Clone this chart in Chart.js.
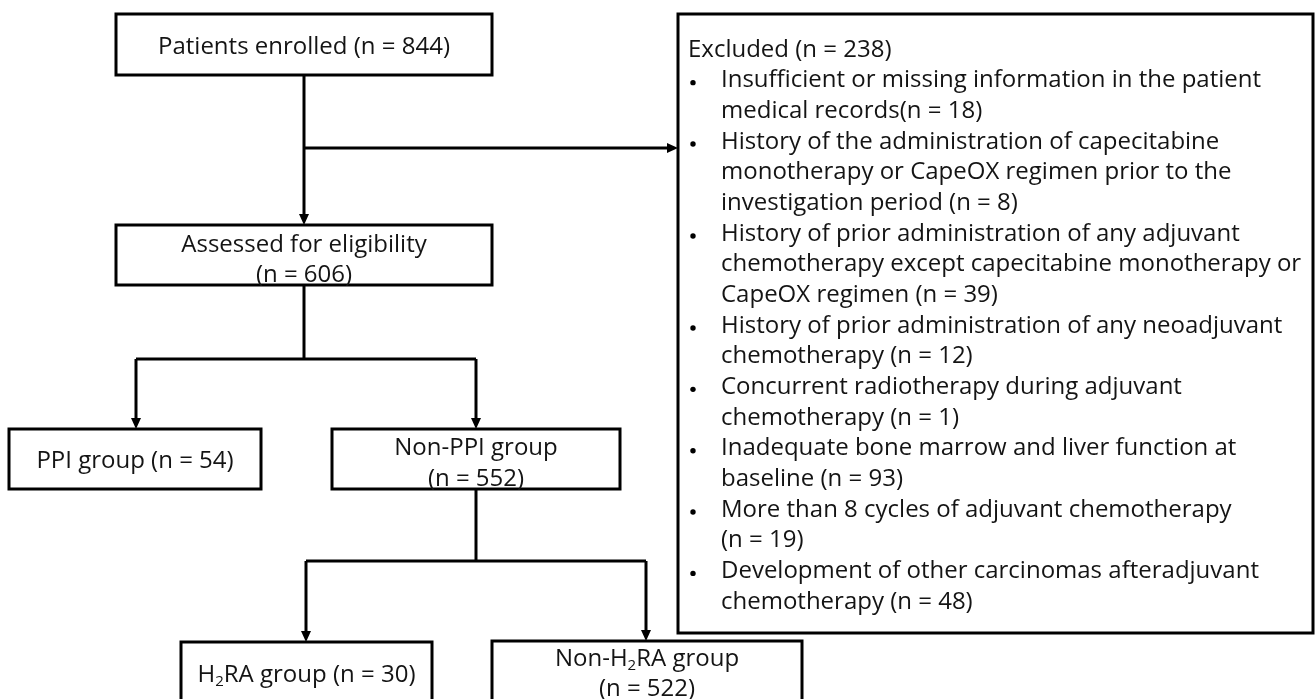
<!DOCTYPE html>
<html>
<head>
<meta charset="utf-8">
<script src="https://cdn.jsdelivr.net/npm/chart.js@4.4.0/dist/chart.umd.min.js"></script>
<style>
  html, body { margin: 0; padding: 0; background: #fff; }
  #wrap { width: 1315px; height: 699px; position: relative; }
</style>
</head>
<body>
<div id="wrap"><canvas id="flowChart"></canvas></div>
<script>
// Patient flow: stage names and counts ("_2" marks a subscript 2)
const stageNames = ['Patients enrolled', 'Assessed for eligibility', 'PPI group', 'Non-PPI group', 'H_2RA group', 'Non-H_2RA group'];
const stageCounts = [844, 606, 54, 552, 30, 522];

// Exclusions, {n} is replaced by the count
const excludedLabel = 'Excluded';
const excludedCount = 238;
const reasonLines = [
    ['Insufficient or missing information in the patient', 'medical records(n = {n})'],
    ['History of the administration of capecitabine', 'monotherapy or CapeOX regimen prior to the', 'investigation period (n = {n})'],
    ['History of prior administration of any adjuvant', 'chemotherapy except capecitabine monotherapy or', 'CapeOX regimen (n = {n})'],
    ['History of prior administration of any neoadjuvant', 'chemotherapy (n = {n})'],
    ['Concurrent radiotherapy during adjuvant', 'chemotherapy (n = {n})'],
    ['Inadequate bone marrow and liver function at', 'baseline (n = {n})'],
    ['More than 8 cycles of adjuvant chemotherapy', '(n = {n})'],
    ['Development of other carcinomas afteradjuvant', 'chemotherapy (n = {n})']
];
const reasonCounts = [18, 8, 39, 12, 1, 93, 19, 48];

// Layout in page units (x right, y down)
const stageBoxes = [
    { x0: 116, x1: 492, y0: 14, y1: 75, split: false, ty: [45] },
    { x0: 116, x1: 492, y0: 225, y1: 285, split: true, ty: [243, 273] },
    { x0: 9, x1: 261, y0: 429, y1: 489, split: false, ty: [459] },
    { x0: 332, x1: 620, y0: 429, y1: 489, split: true, ty: [446, 477] },
    { x0: 181, x1: 432, y0: 642, y1: 720, split: false, ty: [673] },
    { x0: 492, x1: 802, y0: 641, y1: 720, split: true, ty: [657, 687] }
];
const excludedBox = { x0: 678, x1: 1313, y0: 14, y1: 633, titleX: 688, bulletX: 693, textX: 721, firstY: 48, step: 30.67 };

// connectors: [x1, y1, x2, y2, arrow]
const connectors = [
    [304, 75, 304, 225, true],
    [304, 148, 678, 148, true],
    [304, 285, 304, 359, false],
    [136, 359, 476, 359, false],
    [136, 359, 136, 429, true],
    [476, 359, 476, 429, true],
    [476, 489, 476, 561, false],
    [306, 561, 646, 561, false],
    [306, 561, 306, 642, true],
    [646, 561, 646, 641, true]
];

const FONT = '"Open Sans", "Noto Sans", sans-serif';
const FONT_SIZE = 24;
const TEXT_COLOR = '#141414';

function richParts(text) {
    const parts = [];
    const re = /_(\d)/g;
    let last = 0, m;
    while ((m = re.exec(text)) !== null) {
        if (m.index > last) parts.push({ t: text.slice(last, m.index), sub: false });
        parts.push({ t: m[1], sub: true });
        last = m.index + m[0].length;
    }
    if (last < text.length) parts.push({ t: text.slice(last), sub: false });
    return parts;
}

function drawRich(ctx, text, x, y, align) {
    const parts = richParts(text);
    const mainFont = FONT_SIZE + 'px ' + FONT;
    const subFont = Math.round(FONT_SIZE * 0.64) + 'px ' + FONT;
    let total = 0;
    parts.forEach(p => {
        ctx.font = p.sub ? subFont : mainFont;
        p.w = ctx.measureText(p.t).width;
        total += p.w;
    });
    let cx = align === 'center' ? x - total / 2 : x;
    ctx.textAlign = 'left';
    ctx.textBaseline = 'alphabetic';
    parts.forEach(p => {
        ctx.font = p.sub ? subFont : mainFont;
        ctx.fillText(p.t, cx, y + FONT_SIZE * 0.36 + (p.sub ? 4 : 0));
        cx += p.w;
    });
}

const flowPlugin = {
    id: 'flow',
    afterDraw(chart) {
        const ctx = chart.ctx;
        const X = v => chart.scales.x.getPixelForValue(v);
        const Y = v => chart.scales.y.getPixelForValue(v);
        ctx.save();
        ctx.strokeStyle = '#000';
        ctx.fillStyle = '#000';
        ctx.lineWidth = 3;
        ctx.lineCap = 'butt';

        // connectors and arrow heads
        connectors.forEach(([x1, y1, x2, y2, arrow]) => {
            const a = { x: X(x1), y: Y(y1) }, b = { x: X(x2), y: Y(y2) };
            const ang = Math.atan2(b.y - a.y, b.x - a.x);
            const len = arrow ? 10 : 0;
            ctx.beginPath();
            ctx.moveTo(a.x, a.y);
            ctx.lineTo(b.x - Math.cos(ang) * len, b.y - Math.sin(ang) * len);
            ctx.stroke();
            if (arrow) {
                ctx.beginPath();
                ctx.moveTo(b.x, b.y);
                ctx.lineTo(b.x - Math.cos(ang) * 11 - Math.sin(ang) * 5, b.y - Math.sin(ang) * 11 + Math.cos(ang) * 5);
                ctx.lineTo(b.x - Math.cos(ang) * 11 + Math.sin(ang) * 5, b.y - Math.sin(ang) * 11 - Math.cos(ang) * 5);
                ctx.closePath();
                ctx.fill();
            }
        });

        // stage boxes
        stageBoxes.forEach((b, i) => {
            ctx.strokeStyle = '#000';
            ctx.lineWidth = 3;
            ctx.strokeRect(X(b.x0), Y(b.y0), X(b.x1) - X(b.x0), Y(b.y1) - Y(b.y0));
            const cx = X((b.x0 + b.x1) / 2);
            const countText = '(n = ' + stageCounts[i] + ')';
            ctx.fillStyle = TEXT_COLOR;
            if (b.split) {
                drawRich(ctx, stageNames[i], cx, Y(b.ty[0]), 'center');
                drawRich(ctx, countText, cx, Y(b.ty[1]), 'center');
            } else {
                drawRich(ctx, stageNames[i] + ' ' + countText, cx, Y(b.ty[0]), 'center');
            }
        });

        // exclusion box
        const e = excludedBox;
        ctx.strokeStyle = '#000';
        ctx.lineWidth = 3;
        ctx.strokeRect(X(e.x0), Y(e.y0), X(e.x1) - X(e.x0), Y(e.y1) - Y(e.y0));
        ctx.fillStyle = TEXT_COLOR;
        drawRich(ctx, excludedLabel + ' (n = ' + excludedCount + ')', X(e.titleX), Y(e.firstY), 'left');
        let row = 1;
        reasonLines.forEach((lines, i) => {
            ctx.fillStyle = '#000';
            ctx.beginPath();
            ctx.arc(X(e.bulletX), Y(e.firstY + row * e.step) + 4, 2.7, 0, Math.PI * 2);
            ctx.fill();
            ctx.fillStyle = TEXT_COLOR;
            lines.forEach(line => {
                drawRich(ctx, line.replace('{n}', reasonCounts[i]), X(e.textX), Y(e.firstY + row * e.step), 'left');
                row++;
            });
        });
        ctx.restore();
    }
};

new Chart(document.getElementById('flowChart').getContext('2d'), {
    type: 'scatter',
    data: { datasets: [] },
    options: {
        responsive: true,
        maintainAspectRatio: false,
        animation: false,
        layout: { padding: 0 },
        plugins: {
            legend: { display: false },
            tooltip: { enabled: false }
        },
        scales: {
            x: { type: 'linear', min: 0, max: 1315, display: false },
            y: { type: 'linear', min: 0, max: 699, reverse: true, display: false }
        }
    },
    plugins: [flowPlugin]
});
</script>
</body>
</html>
